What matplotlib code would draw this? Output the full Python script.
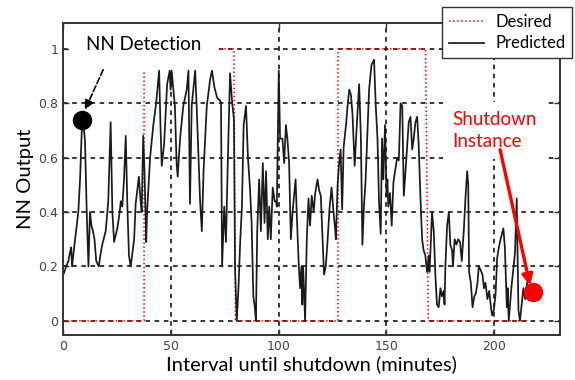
import numpy as np
import matplotlib
matplotlib.use('Agg')
import matplotlib.pyplot as plt

# desired network output (step target)
desired_x = [0, 37.6, 37.6, 79.3, 80.0, 127.6, 127.6, 168.2, 169.5, 216.0]
desired_y = [0, 0, 1, 1, 0, 0, 1, 1, 0, 0]

# predicted network output
pred_x = [0.15, 1.5, 2.5, 3.2, 3.8, 4.2, 5.6, 7.1, 7.9, 8.7, 9.3, 10.2, 11.0, 11.8, 12.5,
          13.2, 13.9, 14.6, 15.4, 16.6, 17.3, 18.2, 19.8, 21.0, 22.1, 22.9, 23.7, 25.2,
          26.3, 26.8, 27.5, 28.3, 29.1, 29.9, 30.6, 31.4, 33.0, 33.7, 35.2, 35.9, 36.5,
          37.2, 37.8, 38.6, 39.0, 40.4, 41.9, 43.2, 44.6, 45.2, 45.8, 46.9, 48.3, 49.5,
          49.9, 50.4, 51.2, 51.9, 52.7, 53.2, 54.3, 55.8, 57.4, 58.2, 58.9, 59.7, 61.3,
          62.0, 63.6, 64.4, 65.2, 66.7, 68.3, 69.1, 70.2, 71.5, 72.9, 73.3, 73.8, 74.8,
          75.6, 76.5, 77.5, 78.5, 79.3, 79.8, 80.6, 81.4, 82.2, 83.0, 83.8, 84.9, 85.8,
          86.8, 87.5, 88.3, 89.0, 89.5, 90.1, 91.0, 91.8, 92.7, 93.5, 94.2, 95.0, 95.7,
          96.4, 97.3, 98.2, 98.8, 99.2, 100.1, 100.7, 101.8, 102.6, 103.4, 104.1, 104.9,
          105.7, 106.5, 107.9, 108.6, 109.4, 110.0, 110.6, 111.0, 111.4, 112.3, 113.1,
          113.9, 114.6, 115.4, 116.3, 117.0, 118.1, 118.8, 119.6, 120.4, 121.1, 121.9,
          122.7, 123.7, 124.6, 125.5, 126.1, 126.6, 127.4, 128.0, 128.8, 129.5, 130.2,
          131.3, 132.0, 132.8, 133.6, 134.3, 135.3, 136.3, 137.4, 138.2, 138.9, 139.6,
          140.4, 141.2, 142.0, 143.1, 144.3, 145.1, 145.9, 146.6, 147.4, 148.0, 148.6,
          149.4, 150.1, 150.5, 150.9, 151.7, 152.5, 153.3, 155.0, 155.8, 156.6, 157.4,
          158.1, 158.9, 160.4, 161.2, 162.0, 162.7, 163.5, 164.3, 165.0, 165.8, 166.6,
          167.3, 168.1, 168.9, 169.7, 170.0, 170.5, 171.2, 172.0, 172.8, 173.5, 174.3,
          175.1, 175.8, 176.6, 177.0, 177.4, 178.2, 179.0, 179.7, 180.5, 180.9, 181.7,
          182.5, 183.3, 184.2, 185.0, 186.0, 186.7, 187.5, 188.0, 188.4, 189.2, 190.0,
          190.8, 191.5, 192.3, 192.9, 193.6, 194.6, 195.3, 196.0, 196.9, 197.7, 198.7,
          199.1, 199.9, 200.7, 201.4, 202.2, 203.0, 204.3, 205.0, 205.9, 206.3, 206.8,
          208.0, 209.7, 210.5, 211.3, 212.0, 212.8, 213.6, 214.4, 215.3, 215.8]
pred_y = [0.17, 0.20, 0.22, 0.25, 0.27, 0.20, 0.30, 0.40, 0.52, 0.70, 0.74, 0.66, 0.40, 0.20, 0.40,
          0.35, 0.33, 0.30, 0.22, 0.20, 0.24, 0.28, 0.33, 0.44, 0.73, 0.40, 0.29, 0.34,
          0.40, 0.44, 0.42, 0.52, 0.68, 0.41, 0.24, 0.20, 0.30, 0.43, 0.53, 0.45, 0.40,
          0.68, 0.55, 0.29, 0.40, 0.60, 0.72, 0.80, 0.92, 0.72, 0.57, 0.65, 0.87, 0.92,
          0.85, 0.92, 0.85, 0.79, 0.58, 0.53, 0.67, 0.79, 0.85, 0.92, 0.43, 0.79, 0.92,
          0.79, 0.44, 0.33, 0.55, 0.79, 0.89, 0.92, 0.86, 0.82, 0.81, 0.80, 0.20, 0.42,
          0.29, 0.60, 0.91, 0.80, 0.74, 0.20, 0.00, 0.12, 0.29, 0.42, 0.72, 0.79, 0.60,
          0.48, 0.36, 0.09, 0.05, 0.00, 0.33, 0.52, 0.33, 0.58, 0.36, 0.55, 0.30, 0.42,
          0.30, 0.49, 0.44, 0.44, 0.42, 0.92, 0.67, 0.67, 0.58, 0.72, 0.67, 0.58,
          0.30, 0.40, 0.52, 0.36, 0.20, 0.12, 0.20, 0.06, 0.20, 0.00, 0.30,
          0.45, 0.35, 0.46, 0.40, 0.47, 0.52, 0.48, 0.46, 0.30, 0.17, 0.20,
          0.29, 0.42, 0.49, 0.40, 0.35, 0.30, 0.50, 0.57, 0.63, 0.41, 0.64,
          0.72, 0.79, 0.85, 0.83, 0.76, 0.57, 0.72, 0.87, 0.67, 0.28, 0.42,
          0.52, 0.69, 0.85, 0.94, 0.96, 0.79, 0.67, 0.44, 0.32, 0.67, 0.52,
          0.72, 0.46, 0.52, 0.42, 0.47, 0.35, 0.51, 0.60, 0.59, 0.80, 0.79,
          0.46, 0.55, 0.73, 0.75, 0.63, 0.67, 0.73, 0.75, 0.65, 0.46, 0.30,
          0.26, 0.24, 0.18, 0.24, 0.18, 0.26, 0.40, 0.33, 0.16, 0.06, 0.05,
          0.12, 0.09, 0.11, 0.06, 0.20, 0.35, 0.40, 0.28, 0.26, 0.20, 0.30,
          0.28, 0.30, 0.29, 0.22, 0.34, 0.45, 0.55, 0.50, 0.18, 0.14, 0.05,
          0.09, 0.10, 0.14, 0.20, 0.19, 0.17, 0.12, 0.14, 0.08, 0.11, 0.04,
          0.02, 0.04, 0.10, 0.23, 0.27, 0.30, 0.34, 0.27, 0.05, 0.12, 0.00,
          0.12, 0.25, 0.45, 0.04, 0.00, 0.06, 0.12, 0.08, 0.14, 0.15]

detect_pt = (8.8, 0.74)
shutdown_pt = (218.0, 0.107)

x_ticks = [0, 50, 100, 150, 200]
y_ticks = [0, 0.2, 0.4, 0.6, 0.8, 1.0]
y_ticklabels = ['0', '0.2', '0.4', '0.6', '0.8', '1']

lab_font = 'Lato'

fig = plt.figure(figsize=(5.75, 3.8), dpi=100)
ax = fig.add_axes([0.1096, 0.1184, 0.8644, 0.8211])

# zorder: grid < desired < text boxes < predicted < spines
ax.plot(pred_x, pred_y, color='#1a1a1a', lw=1.25, label='Predicted', zorder=2)
ax.plot(desired_x, desired_y, color='red', ls=':', lw=1.1, label='Desired', zorder=1.2)

ax.plot(*detect_pt, 'o', color='black', ms=13, zorder=4)
ax.plot(*shutdown_pt, 'o', color='red', ms=13, zorder=4)

ax.set_xlim(0, 230.6)
ax.set_ylim(-0.052, 1.095)
ax.set_xticks(x_ticks)
ax.set_yticks(y_ticks)
ax.set_yticklabels(y_ticklabels)
ax.tick_params(direction='in', top=True, right=True, length=4, width=1,
               labelsize=9, labelcolor='#444444', color='#333333')
for s in ax.spines.values():
    s.set_linewidth(1.4)
    s.set_color('#333333')
ax.grid(True, color='black', ls=(0, (3, 3)), lw=1.1)
ax.set_axisbelow(True)

ax.set_xlabel('Interval until shutdown (minutes)', fontsize=14.5, family=lab_font, labelpad=2)
ax.set_ylabel('NN Output', fontsize=14.5, family=lab_font, labelpad=3)

ax.text(10.7, 1.015, 'NN Detection', fontsize=13.5, family=lab_font, va='center', ha='left',
        bbox=dict(boxstyle='square,pad=0.9', fc='white', ec='none'), zorder=1.5)
ax.annotate('', xy=(10.2, 0.776), xytext=(18.6, 0.923),
            arrowprops=dict(arrowstyle='-|>', color='black', ls='--', lw=1.2,
                            mutation_scale=14, shrinkA=0, shrinkB=0), zorder=5)

ax.text(180.5, 0.70, 'Shutdown\nInstance', fontsize=13.5, family=lab_font, color='red',
        va='center', ha='left', linespacing=1.35,
        bbox=dict(boxstyle='square,pad=0.5', fc='white', ec='none'), zorder=1.5)
ax.annotate('', xy=(216.7, 0.13), xytext=(202.8, 0.629),
            arrowprops=dict(arrowstyle='-|>', color='red', lw=2.4,
                            mutation_scale=16, shrinkA=0, shrinkB=0), zorder=5)

h, l = ax.get_legend_handles_labels()
leg = ax.legend([h[1], h[0]], [l[1], l[0]], loc='upper right',
                bbox_to_anchor=(0.995, 0.982), bbox_transform=fig.transFigure,
                fancybox=False, framealpha=1, edgecolor='#333333',
                prop={'family': lab_font, 'size': 12}, handlelength=2.1,
                borderpad=0.4, labelspacing=0.35, handletextpad=0.7, borderaxespad=0)
leg.get_frame().set_linewidth(1.0)
leg.set_zorder(10)

fig.savefig('out.png', dpi=100)
